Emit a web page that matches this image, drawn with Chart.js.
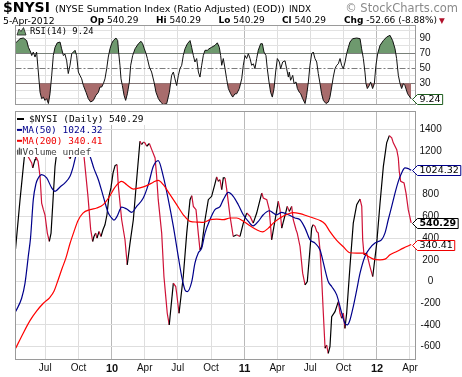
<!DOCTYPE html>
<html><head><meta charset="utf-8">
<script src="https://cdn.jsdelivr.net/npm/chart.js"></script>
<style>
html,body{margin:0;padding:0;background:#fff;}
#wrap{position:relative;width:462px;height:377px;overflow:hidden;background:#fff;}
canvas{position:absolute;left:0;top:0;}
.t{position:absolute;white-space:nowrap;line-height:1;color:#000;font-family:"DejaVu Sans",sans-serif;}
.t b{font-weight:bold;}
</style></head><body>
<div id="wrap">
<canvas id="rsi" width="462" height="377"></canvas>
<canvas id="main" width="462" height="377"></canvas>
<div class="t" style="left:3px;top:0px;font-size:14px;font-weight:bold;">$NYSI</div>
<div class="t" style="left:55px;top:3.5px;font-size:9.5px;">(NYSE Summation Index (Ratio Adjusted) (EOD))</div>
<div class="t" style="left:289px;top:4.5px;font-size:8.8px;">INDX</div>
<div class="t" style="right:4px;top:2.5px;font-size:11.5px;color:#8a8a8a;">© StockCharts.com</div>
<div class="t" style="left:3px;top:15.5px;font-size:9.3px;">5-Apr-2012</div>
<div class="t" style="left:90px;top:15.5px;font-size:9px;"><b>Op</b> 540.29</div>
<div class="t" style="left:156px;top:15.5px;font-size:9px;"><b>Hi</b> 540.29</div>
<div class="t" style="left:218.5px;top:15.5px;font-size:9px;"><b>Lo</b> 540.29</div>
<div class="t" style="left:282px;top:15.5px;font-size:9px;"><b>Cl</b> 540.29</div>
<div class="t" style="left:344px;top:15.5px;font-size:9px;"><b>Chg</b> -52.66 (-8.88%)</div>
<div class="t" style="left:439px;top:16.5px;font-size:7.5px;color:#b0102a;">▼</div>
</div>
<script>
// ---- axis / tick definitions (time in decimal years) ----
const quarterTicks  = [2009.496,2009.748,2010.000,2010.247,2010.496,2010.748,2011.000,2011.247,2011.496,2011.748,2012.000,2012.249];
const quarterLabels = ['Jul','Oct','10','Apr','Jul','Oct','11','Apr','Jul','Oct','12','Apr'];
const priceTicks = [-600,-400,-200,0,200,400,600,800,1000,1200,1400];
const rsiTicks = [10,20,30,40,50,60,70,80,90,100];
const rsiLabelled = [30,50,70,90];

// ---- $NYSI daily (sampled at turning points) ----
const nysiTimes = [
2009.272,2009.306,2009.331,2009.343,2009.358,2009.368,2009.394,2009.402,2009.419,2009.426,
2009.442,2009.457,2009.469,2009.482,2009.494,2009.512,2009.527,2009.540,2009.555,2009.570,
2009.592,2009.623,2009.653,2009.683,2009.706,2009.743,2009.774,2009.789,2009.819,2009.839,
2009.854,2009.864,2009.877,2009.887,2009.902,2009.917,2009.932,2009.947,2009.962,2009.977,
2009.992,2010.008,2010.023,2010.038,2010.048,2010.073,2010.098,2010.115,2010.136,2010.161,
2010.186,2010.211,2010.224,2010.238,2010.249,2010.262,2010.282,2010.300,2010.325,2010.337,
2010.349,2010.375,2010.392,2010.408,2010.417,2010.432,2010.463,2010.481,2010.488,2010.506,
2010.538,2010.564,2010.589,2010.602,2010.614,2010.634,2010.651,2010.664,2010.677,2010.702,
2010.727,2010.752,2010.777,2010.790,2010.802,2010.815,2010.828,2010.840,2010.853,2010.866,
2010.891,2010.915,2010.941,2010.966,2010.991,2011.017,2011.042,2011.066,2011.092,2011.130,
2011.142,2011.168,2011.187,2011.205,2011.255,2011.268,2011.281,2011.323,2011.338,2011.356,
2011.368,2011.389,2011.398,2011.419,2011.439,2011.457,2011.474,2011.494,2011.507,2011.517,
2011.532,2011.545,2011.557,2011.570,2011.583,2011.595,2011.608,2011.620,2011.632,2011.645,
2011.658,2011.683,2011.708,2011.721,2011.734,2011.746,2011.758,2011.771,2011.796,2011.821,
2011.847,2011.872,2011.885,2011.892,2011.902,2011.922,2011.947,2011.968,2011.998,2012.023,
2012.048,2012.073,2012.093,2012.111,2012.123,2012.149,2012.161,2012.168,2012.179,2012.204,
2012.219,2012.236,2012.258];
const nysiValues = [
300,754,1061,1200,1250,1148,1092,1046,1123,1148,
1108,969,723,662,615,446,369,446,754,1061,
1280,1250,1200,1130,1200,1280,1220,1150,780,480,
369,415,446,400,461,415,477,523,615,785,
862,1000,1068,1077,877,569,385,154,354,569,
938,1292,1262,1285,1277,1246,1271,1215,1138,969,
754,446,46,-169,-292,-400,-15,-46,-108,-292,
46,446,754,791,692,662,446,292,323,569,
754,785,900,963,923,938,846,954,954,846,
600,415,431,415,538,631,600,538,631,815,
769,754,662,385,738,662,492,692,646,692,
569,477,446,323,77,-31,0,292,492,523,
508,461,446,292,15,-292,-615,-585,-661,-600,
-323,-277,-185,-292,-338,-292,-431,-292,138,538,
708,760,692,385,246,262,138,46,354,723,
1061,1277,1344,1323,1277,1215,1138,1015,923,908,
815,662,540.29];

// ---- MA(50) ----
const ma50Times = [
2009.273,2009.318,2009.343,2009.370,2009.385,2009.406,2009.426,2009.444,2009.469,2009.507,
2009.545,2009.570,2009.608,2009.645,2009.683,2009.708,2009.728,2009.758,2009.789,2009.819,
2009.834,2009.864,2009.897,2009.934,2009.972,2009.998,2010.015,2010.038,2010.073,2010.111,
2010.149,2010.186,2010.236,2010.274,2010.312,2010.349,2010.387,2010.425,2010.463,2010.500,
2010.526,2010.551,2010.568,2010.602,2010.626,2010.651,2010.677,2010.702,2010.740,2010.777,
2010.815,2010.840,2010.878,2010.915,2010.953,2010.991,2011.029,2011.066,2011.104,2011.142,
2011.187,2011.217,2011.243,2011.281,2011.331,2011.381,2011.419,2011.457,2011.494,2011.532,
2011.570,2011.608,2011.632,2011.658,2011.696,2011.734,2011.758,2011.776,2011.796,2011.821,
2011.847,2011.872,2011.909,2011.947,2011.985,2012.010,2012.035,2012.060,2012.085,2012.111,
2012.136,2012.161,2012.186,2012.211,2012.236,2012.258];
const ma50Values = [
-277,-154,-20,250,400,754,900,954,985,954,
862,831,871,908,969,1061,1160,1230,1240,1190,
1154,1040,938,785,631,585,565,600,686,668,
637,692,769,892,1061,1114,969,754,508,231,
46,-77,-92,0,169,262,308,446,572,662,
690,754,821,785,708,615,554,513,554,615,
652,631,615,637,615,585,569,492,385,354,
290,108,0,-46,-123,-292,-385,-400,-354,-231,
-77,77,231,308,354,369,385,446,569,692,
815,923,1000,1046,1040,1024.32];

// ---- MA(200) ----
const ma200Times = [
2009.273,2009.328,2009.381,2009.432,2009.482,2009.532,2009.562,2009.592,2009.623,2009.653,
2009.683,2009.713,2009.743,2009.781,2009.834,2009.885,2009.934,2009.985,2010.023,2010.073,
2010.111,2010.161,2010.211,2010.262,2010.312,2010.349,2010.387,2010.438,2010.488,2010.538,
2010.589,2010.639,2010.689,2010.740,2010.790,2010.840,2010.891,2010.941,2010.991,2011.042,
2011.092,2011.137,2011.180,2011.217,2011.268,2011.318,2011.366,2011.419,2011.469,2011.519,
2011.570,2011.608,2011.645,2011.696,2011.746,2011.796,2011.847,2011.898,2011.935,2011.973,
2012.023,2012.060,2012.098,2012.149,2012.199,2012.258];
const ma200Values = [
-615,-480,-360,-270,-200,-145,-90,10,120,220,
350,460,560,630,662,677,708,790,870,923,
892,852,862,883,915,932,892,800,708,615,
554,548,545,570,575,570,585,585,556,513,
477,458,492,538,585,618,635,625,606,585,
563,530,460,380,320,265,262,262,231,206,
200,206,246,277,308,340.41];

// ---- RSI(14) ----
const rsiTimes = [
2009.272,2009.280,2009.306,2009.331,2009.356,2009.369,2009.386,2009.394,2009.406,2009.419,
2009.431,2009.444,2009.457,2009.469,2009.482,2009.494,2009.507,2009.520,2009.532,2009.545,
2009.557,2009.570,2009.587,2009.608,2009.620,2009.633,2009.645,2009.658,2009.670,2009.683,
2009.696,2009.708,2009.721,2009.733,2009.746,2009.758,2009.771,2009.784,2009.804,2009.821,
2009.839,2009.859,2009.879,2009.897,2009.909,2009.922,2009.935,2009.947,2009.960,2009.972,
2009.985,2009.997,2010.010,2010.030,2010.043,2010.050,2010.060,2010.068,2010.078,2010.091,
2010.103,2010.116,2010.131,2010.141,2010.156,2010.174,2010.199,2010.219,2010.231,2010.244,
2010.257,2010.267,2010.282,2010.299,2010.317,2010.332,2010.350,2010.367,2010.387,2010.413,
2010.433,2010.450,2010.463,2010.475,2010.488,2010.501,2010.513,2010.526,2010.538,2010.551,
2010.569,2010.589,2010.601,2010.614,2010.626,2010.639,2010.652,2010.664,2010.677,2010.689,
2010.702,2010.720,2010.732,2010.752,2010.777,2010.795,2010.810,2010.820,2010.828,2010.840,
2010.853,2010.865,2010.878,2010.896,2010.911,2010.928,2010.941,2010.961,2010.979,2010.991,
2011.004,2011.016,2011.029,2011.042,2011.054,2011.067,2011.079,2011.092,2011.104,2011.122,
2011.135,2011.147,2011.162,2011.172,2011.185,2011.197,2011.210,2011.223,2011.235,2011.248,
2011.263,2011.273,2011.288,2011.306,2011.318,2011.331,2011.338,2011.348,2011.364,2011.374,
2011.389,2011.399,2011.414,2011.424,2011.439,2011.457,2011.469,2011.482,2011.494,2011.507,
2011.519,2011.532,2011.545,2011.557,2011.570,2011.582,2011.595,2011.615,2011.633,2011.645,
2011.658,2011.670,2011.683,2011.696,2011.708,2011.721,2011.733,2011.746,2011.759,2011.771,
2011.784,2011.796,2011.816,2011.847,2011.872,2011.884,2011.897,2011.909,2011.917,2011.927,
2011.942,2011.952,2011.967,2011.980,2011.992,2012.005,2012.023,2012.048,2012.073,2012.098,
2012.118,2012.136,2012.148,2012.161,2012.174,2012.186,2012.199,2012.211,2012.231,2012.258];
const rsiValues = [
84,85,89.5,90.4,87,78,71.7,67,71.7,65,
71.7,45,18,9.5,11.5,7.2,9.5,3,16,40.6,
67,78,84,85,76,67,69,60,43,54,
69.5,71.7,74,67,45,40.6,36,27,18,9.5,
5,7.2,14,18,25,25,29.6,36,49.5,65,
76,82.8,87,90.4,87,71.7,54,36,27,14,
7.2,16,31.8,54,67,76,82.8,86,83,76,
69.5,63,51.7,45,31.8,18,9.5,5,1.5,3,
18,40.6,45,36,27,40.6,49.5,54,67,76,
82.8,87,78,67,58.4,63,45,38.3,54,67,
74,74,76,78,80.6,84,78,67,54,63,
49.5,36,23,16,11.6,16,16,23,36,54,
67,63,69.5,63,54,56,49.5,63,74,82.8,
82.8,71.7,67,49.5,31.8,18,11.6,23,45,63,
58.4,49.5,58.4,60,49.5,38.3,45,34,40.6,29.6,
31.8,23,18,16,9.5,3,14,31.8,54,69.5,
71.7,63,58.4,43,29.6,16,7.2,3,5,11.6,
25,38.3,49.5,54,56,63,54,49.5,58.4,69.5,
78,85,89.5,90.4,89.5,76,63,45,29.6,23,
27,31.8,23,29.6,54,69.5,80.6,87,91.7,94,
87,76,63,40.6,29.6,23,29.6,27,16,9.24];

// ---- helpers ----
const X_MIN = 2009.2717, X_MAX = 2012.2906;
function pts(t, v){ const n=Math.min(t.length,v.length); const o=[]; for(let i=0;i<n;i++) o.push({x:t[i],y:v[i]}); return o; }
const last = a => a[a.length-1];
const isYear = i => /^\d\d$/.test(quarterLabels[i]);
const gridX = c => isYear(c.index) ? '#b9b9b9' : '#dedede';
const FONT = '"Liberation Sans", Arial, sans-serif';

function drawTag(ctx, tipX, yPix, text, border, bold){
  ctx.save();
  ctx.font = (bold ? 'bold ' : '') + '9.5px "DejaVu Sans"';
  const w = ctx.measureText(text).width;
  const h = 10, top = Math.round(yPix - h/2) + 0.5, bx = tipX + 5;
  ctx.beginPath();
  ctx.moveTo(tipX, top + h/2);
  ctx.lineTo(bx, top);
  ctx.lineTo(bx + w + 4, top);
  ctx.lineTo(bx + w + 4, top + h);
  ctx.lineTo(bx, top + h);
  ctx.closePath();
  ctx.fillStyle = '#fff'; ctx.fill();
  ctx.strokeStyle = border; ctx.lineWidth = 1; ctx.stroke();
  ctx.fillStyle = '#000'; ctx.textBaseline = 'middle'; ctx.textAlign = 'left';
  ctx.fillText(text, bx + 2, top + h/2 + 0.5);
  ctx.restore();
}
const framePlugin = {
  id:'frame',
  afterDatasetsDraw(chart){
    const a = chart.chartArea, ctx = chart.ctx;
    ctx.save(); ctx.strokeStyle = '#9a9a9a'; ctx.lineWidth = 1;
    ctx.strokeRect(a.left, a.top, a.right - a.left, a.bottom - a.top);
    ctx.restore();
  }
};

// ---- RSI panel ----
const rsiRefPlugin = {
  id:'rsiRef',
  beforeDatasetsDraw(chart){
    const ctx = chart.ctx, a = chart.chartArea, y = chart.scales.y;
    ctx.save(); ctx.strokeStyle = '#7c7c7c'; ctx.lineWidth = 1;
    [70,30].forEach(v => { const p = Math.round(y.getPixelForValue(v)) + 0.5;
      ctx.beginPath(); ctx.moveTo(a.left, p); ctx.lineTo(a.right, p); ctx.stroke(); });
    ctx.setLineDash([6,2,2,2]);
    const p = Math.round(y.getPixelForValue(50)) + 0.5;
    ctx.beginPath(); ctx.moveTo(a.left, p); ctx.lineTo(a.right, p); ctx.stroke();
    ctx.restore();
  },
  afterDraw(chart){
    const ctx = chart.ctx, a = chart.chartArea, y = chart.scales.y;
    ctx.save();
    ctx.beginPath(); ctx.moveTo(17,35); ctx.lineTo(19,29); ctx.lineTo(21,31.5); ctx.lineTo(23.5,27.5); ctx.lineTo(26,35); ctx.closePath();
    ctx.fillStyle = '#6f9a6f'; ctx.fill(); ctx.strokeStyle = '#222'; ctx.lineWidth = 0.8; ctx.stroke();
    ctx.fillStyle = '#000'; ctx.font = '8.8px "DejaVu Sans Mono"'; ctx.textBaseline = 'middle';
    ctx.fillText('RSI(14) ' + last(rsiValues).toFixed(2), 30, a.top + 6.5);
    ctx.restore();
    drawTag(ctx, a.right - 3, y.getPixelForValue(last(rsiValues)), last(rsiValues).toFixed(2), '#1e5e1e', false);
  }
};
const rsiPts = pts(rsiTimes, rsiValues);
new Chart(document.getElementById('rsi'), {
  type:'line',
  data:{datasets:[
    {data:rsiPts, borderColor:'#111', borderWidth:1, pointRadius:0, tension:0, fill:false, order:0},
    {data:rsiPts, borderWidth:0, borderColor:'rgba(0,0,0,0)', pointRadius:0, tension:0, order:1,
     fill:{target:{value:70}, above:'#6e996e', below:'rgba(0,0,0,0)'}},
    {data:rsiPts, borderWidth:0, borderColor:'rgba(0,0,0,0)', pointRadius:0, tension:0, order:2,
     fill:{target:{value:30}, above:'rgba(0,0,0,0)', below:'#a86c6c'}}
  ]},
  options:{
    responsive:false, animation:false, events:[],
    layout:{padding:{left:15.5, top:25.5, right:0, bottom:272.5}},
    plugins:{legend:{display:false}, tooltip:{enabled:false}},
    scales:{
      x:{type:'linear', min:X_MIN, max:X_MAX,
         afterBuildTicks:s=>{ s.ticks = quarterTicks.map(v=>({value:v})); },
         afterFit:s=>{ s.height = 0; },
         ticks:{display:false},
         grid:{color:gridX, drawTicks:false, lineWidth:1}, border:{display:false}},
      y:{type:'linear', position:'right', min:1.7, max:107.1,
         afterBuildTicks:s=>{ s.ticks = rsiTicks.map(v=>({value:v})); },
         afterFit:s=>{ s.width = 46.5; },
         grid:{color:c => (c.tick && [30,50,70].includes(c.tick.value)) ? 'rgba(0,0,0,0)' : '#e2e2e2', drawTicks:false},
         border:{display:false},
         ticks:{autoSkip:false, crossAlign:'center', padding:4, color:'#111', font:{family:FONT, size:10},
                callback:v => rsiLabelled.includes(v) ? String(v) : ''}}
    }
  },
  plugins:[rsiRefPlugin, framePlugin]
});

// ---- Main price panel ----
const mainLegendPlugin = {
  id:'mainLegend',
  afterDatasetsDraw(chart){
    const ctx = chart.ctx, a = chart.chartArea;
    ctx.save();
    ctx.fillStyle = '#fff';
    ctx.fillRect(a.left + 1, a.top + 1, 77, 44.5);
    ctx.fillRect(a.left + 1, a.top + 1, 133, 12.5);
    ctx.font = '9.5px "DejaVu Sans Mono"'; ctx.textBaseline = 'middle';
    const rows = [
      {t:'$NYSI (Daily) ' + last(nysiValues).toFixed(2), c:'#000', x:29, mw:7},
      {t:'MA(50) ' + last(ma50Values).toFixed(2), c:'#00008b', x:22.5, mw:5},
      {t:'MA(200) ' + last(ma200Values).toFixed(2), c:'#ee0000', x:22.5, mw:5},
      {t:'Volume undef', c:'#444', x:22.5, mw:0}
    ];
    rows.forEach((r, i) => {
      const y = a.top + 7.5 + i * 10.9;
      ctx.fillStyle = r.c;
      if (r.mw) ctx.fillRect(17, y - 1, r.mw, 2);
      else { ctx.fillStyle = '#555'; ctx.fillRect(17, y - 2, 1.3, 5); ctx.fillRect(18.8, y - 4, 1.3, 7); ctx.fillRect(20.6, y - 3, 1.3, 6); ctx.fillStyle = r.c; }
      ctx.fillText(r.t, r.x, y + 0.5);
    });
    ctx.restore();
  },
  afterDraw(chart){
    const ctx = chart.ctx, a = chart.chartArea, y = chart.scales.y;
    drawTag(ctx, a.right - 3, y.getPixelForValue(last(ma50Values)), last(ma50Values).toFixed(2), '#00008b', false);
    drawTag(ctx, a.right - 3, y.getPixelForValue(last(ma200Values)), last(ma200Values).toFixed(2), '#ee0000', false);
    drawTag(ctx, a.right - 3, y.getPixelForValue(last(nysiValues)), last(nysiValues).toFixed(2), '#000', true);
  }
};
new Chart(document.getElementById('main'), {
  type:'line',
  data:{datasets:[
    {label:'MA(200)', data:pts(ma200Times, ma200Values), borderColor:'#ff0000', borderWidth:1.2, pointRadius:0, tension:0.35, cubicInterpolationMode:'monotone', order:1},
    {label:'MA(50)', data:pts(ma50Times, ma50Values), borderColor:'#00008b', borderWidth:1.2, pointRadius:0, tension:0.35, cubicInterpolationMode:'monotone', order:2},
    {label:'$NYSI', data:pts(nysiTimes, nysiValues), borderColor:'#000', borderWidth:1.2, pointRadius:0, tension:0, order:3,
     segment:{borderColor:c => c.p1.parsed.y < c.p0.parsed.y ? '#cf1237' : '#000'}}
  ]},
  options:{
    responsive:false, animation:false, events:[],
    layout:{padding:{left:15.5, top:111.5, right:0, bottom:0}},
    plugins:{legend:{display:false}, tooltip:{enabled:false}},
    scales:{
      x:{type:'linear', min:X_MIN, max:X_MAX,
         afterBuildTicks:s=>{ s.ticks = quarterTicks.map(v=>({value:v})); },
         afterFit:s=>{ s.height = 17.5; },
         grid:{color:gridX, drawTicks:false, lineWidth:1}, border:{display:false},
         ticks:{autoSkip:false, maxRotation:0, padding:3, color:'#111',
                font:c => ({family:FONT, size: isYear(c.index) ? 11 : 10, weight: isYear(c.index) ? 'bold' : 'normal'}),
                callback:(v,i) => quarterLabels[i]}},
      y:{type:'linear', position:'right', min:-718, max:1566,
         afterBuildTicks:s=>{ s.ticks = priceTicks.map(v=>({value:v})); },
         afterFit:s=>{ s.width = 46.5; },
         grid:{color:'#dedede', drawTicks:false}, border:{display:false},
         ticks:{autoSkip:false, crossAlign:'center', padding:4, color:'#111', font:{family:FONT, size:10},
                callback:v => String(v)}}
    }
  },
  plugins:[framePlugin, mainLegendPlugin]
});
</script>
</body></html>
